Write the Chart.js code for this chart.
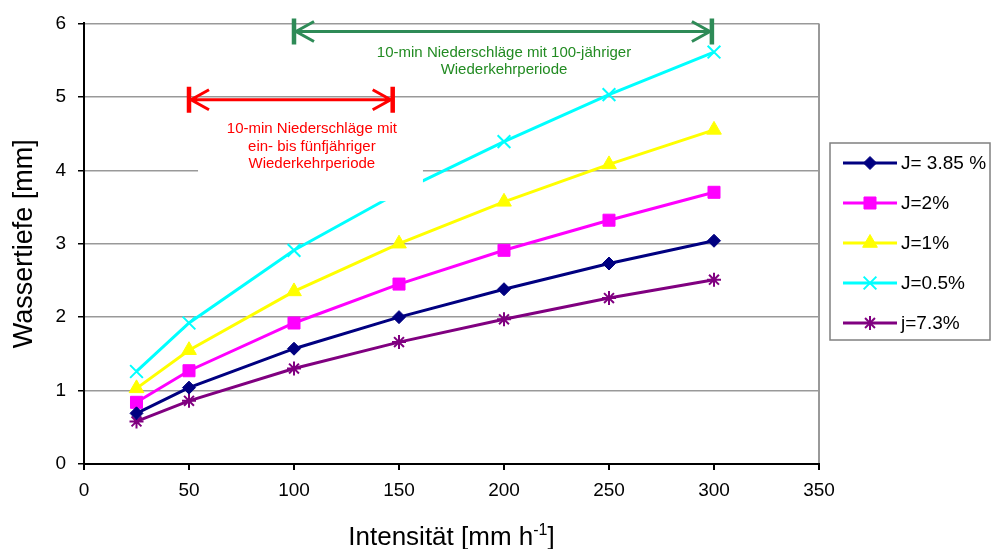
<!DOCTYPE html>
<html>
<head>
<meta charset="utf-8">
<script src="https://cdn.jsdelivr.net/npm/chart.js@4/dist/chart.umd.min.js"></script>
<style>
	body { margin: 0; background: #fff; }
	#wrap { width: 992px; height: 549px; position: relative; }
</style>
</head>
<body>
<div id="wrap"><canvas id="depthChart"></canvas></div>
<script>
// Intensität [mm/h]
var intensity = [25, 50, 100, 150, 200, 250, 300];

// Wassertiefe [mm] per Gefälle
var depthJ385 = [0.69, 1.04, 1.57, 2.00, 2.38, 2.73, 3.04];
var depthJ2 = [0.84, 1.27, 1.92, 2.45, 2.91, 3.32, 3.70];
var depthJ1 = [1.03, 1.55, 2.35, 3.00, 3.57, 4.08, 4.55];
var depthJ05 = [1.26, 1.92, 2.91, 3.70, 4.39, 5.03, 5.61];
var depthJ73 = [0.58, 0.86, 1.30, 1.66, 1.97, 2.26, 2.51];

var seriesLabels = ["J= 3.85 %", "J=2%", "J=1%", "J=0.5%", "j=7.3%"];

var xTicks = { min: 0, max: 350, step: 50 };
var yTicks = { min: 0, max: 6, step: 1 };

var FONT = "'Liberation Sans', Arial, sans-serif";

function toPoints(xs, ys) {
	return xs.map(function (x, i) {
		return { x: x, y: ys[i] };
	});
}

function makeSet(label, values, color, style, radius, bw) {
	return {
		label: label,
		data: toPoints(intensity, values),
		borderColor: color,
		backgroundColor: color,
		pointBackgroundColor: color,
		pointBorderColor: color,
		pointStyle: style,
		pointRadius: radius,
		pointBorderWidth: bw,
		borderWidth: 3,
		tension: 0,
		fill: false,
	};
}

// arrow with end bars, drawn in data coords
function drawArrow(ctx, xs, ys, x1, x2, y, color) {
	var px1 = xs.getPixelForValue(x1);
	var px2 = xs.getPixelForValue(x2);
	var py = ys.getPixelForValue(y);
	ctx.save();
	ctx.strokeStyle = color;
	ctx.lineWidth = 3;
	ctx.beginPath();
	ctx.moveTo(px1, py);
	ctx.lineTo(px2, py);
	// heads
	ctx.moveTo(px1 + 20, py - 10);
	ctx.lineTo(px1 + 2, py);
	ctx.lineTo(px1 + 20, py + 10);
	ctx.moveTo(px2 - 20, py - 10);
	ctx.lineTo(px2 - 2, py);
	ctx.lineTo(px2 - 20, py + 10);
	ctx.stroke();
	ctx.lineWidth = 4.5;
	ctx.beginPath();
	ctx.moveTo(px1, py - 13);
	ctx.lineTo(px1, py + 13);
	ctx.moveTo(px2, py - 13);
	ctx.lineTo(px2, py + 13);
	ctx.stroke();
	ctx.restore();
}

function drawLines(ctx, lines, cx, cy, color) {
	ctx.save();
	ctx.fillStyle = color;
	ctx.font = "15px " + FONT;
	ctx.textAlign = "center";
	ctx.textBaseline = "middle";
	lines.forEach(function (t, i) {
		ctx.fillText(t, cx, cy + i * 17.5);
	});
	ctx.restore();
}

var notesPlugin = {
	id: "notes",
	afterDatasetsDraw: function (chart) {
		var ctx = chart.ctx;
		var xs = chart.scales.x;
		var ys = chart.scales.y;

		// white box behind the red note
		var bx1 = xs.getPixelForValue(54.3);
		var bx2 = xs.getPixelForValue(161.4);
		var by1 = ys.getPixelForValue(4.8);
		var by2 = ys.getPixelForValue(3.58);
		ctx.save();
		ctx.fillStyle = "#ffffff";
		ctx.fillRect(bx1, by1, bx2 - bx1, by2 - by1);
		ctx.restore();

		drawArrow(ctx, xs, ys, 50, 147, 4.96, "#ff0000");
		drawLines(ctx, ["10-min Niederschläge mit", "ein- bis fünfjähriger", "Wiederkehrperiode"],
			xs.getPixelForValue(108.5), ys.getPixelForValue(4.56), "#ff0000");

		drawArrow(ctx, xs, ys, 100, 299, 5.89, "#2e8b57");
		drawLines(ctx, ["10-min Niederschläge mit 100-jähriger", "Wiederkehrperiode"],
			xs.getPixelForValue(200), ys.getPixelForValue(5.6), "#228b22");
	},
	afterDraw: function (chart) {
		var ctx = chart.ctx;
		var xs = chart.scales.x;

		// x axis title with superscript
		ctx.save();
		ctx.fillStyle = "#000";
		ctx.textBaseline = "alphabetic";
		var main = "Intensität [mm h";
		var sup = "-1";
		var end = "]";
		ctx.font = "26px " + FONT;
		var w1 = ctx.measureText(main).width;
		var w3 = ctx.measureText(end).width;
		ctx.font = "16px " + FONT;
		var w2 = ctx.measureText(sup).width;
		var cx = (xs.left + xs.right) / 2;
		var x0 = cx - (w1 + w2 + w3) / 2;
		var base = 545;
		ctx.font = "26px " + FONT;
		ctx.fillText(main, x0, base);
		ctx.font = "16px " + FONT;
		ctx.fillText(sup, x0 + w1, base - 10);
		ctx.font = "26px " + FONT;
		ctx.fillText(end, x0 + w1 + w2, base);
		ctx.restore();

		// legend box
		ctx.save();
		ctx.strokeStyle = "#808080";
		ctx.lineWidth = 1.5;
		ctx.strokeRect(830, 143, 160, 197);
		ctx.font = "19px " + FONT;
		ctx.textBaseline = "middle";
		ctx.fillStyle = "#000";
		chart.data.datasets.forEach(function (ds, i) {
			var y = 163 + i * 40;
			ctx.strokeStyle = ds.borderColor;
			ctx.lineWidth = 3;
			ctx.beginPath();
			ctx.moveTo(843, y);
			ctx.lineTo(897, y);
			ctx.stroke();
			ctx.fillStyle = ds.pointBackgroundColor;
			ctx.lineWidth = ds.pointBorderWidth;
			if (Chart.helpers && Chart.helpers.drawPoint) {
				Chart.helpers.drawPoint(ctx, {
					pointStyle: ds.pointStyle,
					radius: ds.pointRadius,
					rotation: 0,
					borderWidth: ds.pointBorderWidth,
				}, 870, y);
			}
			ctx.fillStyle = "#000";
			ctx.fillText(ds.label, 901, y + 1);
		});
		ctx.restore();
	},
};

var ctxEl = document.getElementById("depthChart");
var myChart = new Chart(ctxEl, {
	type: "line",
	data: {
		datasets: [
			makeSet(seriesLabels[0], depthJ385, "#000080", "rectRot", 6.5, 1),
			makeSet(seriesLabels[1], depthJ2, "#ff00ff", "rect", 8.5, 1),
			makeSet(seriesLabels[2], depthJ1, "#ffff00", "triangle", 8.5, 1),
			makeSet(seriesLabels[3], depthJ05, "#00ffff", "crossRot", 9, 2),
			makeSet(seriesLabels[4], depthJ73, "#800080", "star", 7, 2),
		],
	},
	options: {
		responsive: true,
		maintainAspectRatio: false,
		animation: false,
		layout: {
			padding: { left: 0, right: 173, top: 20, bottom: 0 },
		},
		plugins: {
			legend: { display: false },
			tooltip: { enabled: false },
		},
		scales: {
			x: {
				type: "linear",
				min: xTicks.min,
				max: xTicks.max,
				afterFit: function (scale) {
					scale.height = 85;
				},
				ticks: {
					stepSize: xTicks.step,
					color: "#000",
					font: { family: FONT, size: 19 },
					padding: 9,
					maxRotation: 0,
				},
				grid: {
					color: function (c) {
						return c.tick && c.tick.value === xTicks.max ? "#999999" : "rgba(0,0,0,0)";
					},
					lineWidth: 2,
					tickColor: "#000",
					tickLength: 6,
				},
				border: { color: "#000", width: 2 },
			},
			y: {
				min: yTicks.min,
				max: yTicks.max,
				afterFit: function (scale) {
					scale.width = 84;
				},
				ticks: {
					stepSize: yTicks.step,
					color: "#000",
					font: { family: FONT, size: 19 },
					padding: 12,
				},
				grid: {
					color: "#999999",
					lineWidth: 1.5,
					tickColor: "#000",
					tickLength: 6,
				},
				border: { color: "#000", width: 2 },
				title: {
					display: true,
					text: "Wassertiefe [mm]",
					color: "#000",
					font: { family: FONT, size: 27, lineHeight: 1 },
					padding: { top: 11, bottom: 0 },
				},
			},
		},
	},
	plugins: [notesPlugin],
});
</script>
</body>
</html>
